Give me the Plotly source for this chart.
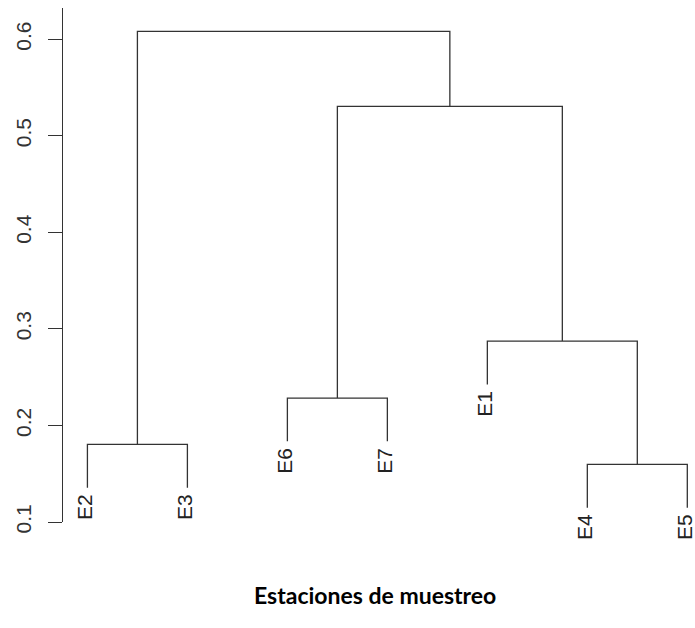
import plotly.graph_objects as go

# ---- data ----
leaf_labels = ["E2", "E3", "E6", "E7", "E1", "E4", "E5"]
merge_left = ["E2", "E4", "E6", "E1", "C3", "C1"]
merge_right = ["E3", "E5", "E7", "C2", "C4", "C5"]
merge_height = [0.1804, 0.1597, 0.2284, 0.2874, 0.5306, 0.6082]
y_ticks = [0.1, 0.2, 0.3, 0.4, 0.5, 0.6]
y_tick_text = ["0.1", "0.2", "0.3", "0.4", "0.5", "0.6"]
x_title = "Estaciones de muestreo"

# ---- build dendrogram geometry (R plot.hclust style, hang = 0.1) ----
hang = 0.1 * (max(merge_height) - min(merge_height))
pos = {lab: i + 1 for i, lab in enumerate(leaf_labels)}
top = {}
leaf_end = {}
for i, (l, r) in enumerate(zip(merge_left, merge_right)):
    for c in (l, r):
        if c in leaf_labels:
            leaf_end[c] = merge_height[i] - hang

seg_x, seg_y = [], []
for i, (l, r) in enumerate(zip(merge_left, merge_right)):
    h = merge_height[i]
    xl, xr = pos[l], pos[r]
    yl = top.get(l, leaf_end.get(l))
    yr = top.get(r, leaf_end.get(r))
    seg_x += [xl, xl, xr, xr, None]
    seg_y += [yl, h, h, yr, None]
    name = "C%d" % (i + 1)
    pos[name] = (xl + xr) / 2
    top[name] = h

fig = go.Figure()
fig.add_trace(go.Scatter(x=seg_x, y=seg_y, mode="lines",
                         line=dict(color="#333333", width=1.3),
                         hoverinfo="skip", showlegend=False, cliponaxis=False))

for lab in leaf_labels:
    fig.add_annotation(x=pos[lab], y=leaf_end[lab], text=lab, textangle=-90,
                       showarrow=False, xanchor="center", yanchor="top",
                       yshift=-4, xshift=-3,
                       font=dict(family="Liberation Sans, Arial",
                                 size=21, color="#222222"))

fig.add_annotation(xref="paper", yref="paper", x=(374.7 - 63.3) / (695 - 63.3),
                   y=-(595 - 522) / (522 - 8), text="<b>%s</b>" % x_title,
                   showarrow=False, xanchor="center", yanchor="middle",
                   font=dict(family="Lato, Open Sans, sans-serif", size=23, color="#000000"))

fig.update_layout(
    width=695, height=628,
    margin=dict(l=63, r=0, t=8, b=106, autoexpand=False),
    paper_bgcolor="white", plot_bgcolor="white",
    showlegend=False,
    xaxis=dict(range=[0.7558, 7.077], visible=False, fixedrange=True, automargin=False),
    yaxis=dict(range=[0.1, 0.6324], tickvals=y_ticks, ticktext=y_tick_text,
               tickangle=-90, ticks="outside", ticklen=14, tickwidth=1.3,
               tickcolor="#333333", showline=True, linecolor="#333333", linewidth=1.3,
               showgrid=False, zeroline=False, ticklabelstandoff=8, automargin=False,
               fixedrange=True,
               tickfont=dict(family="Liberation Sans, Arial",
                             size=21, color="#333333")),
)

fig.write_html("out.html", config={"displayModeBar": False},
               post_script="document.body.style.margin='0';document.body.style.overflow='hidden';")
